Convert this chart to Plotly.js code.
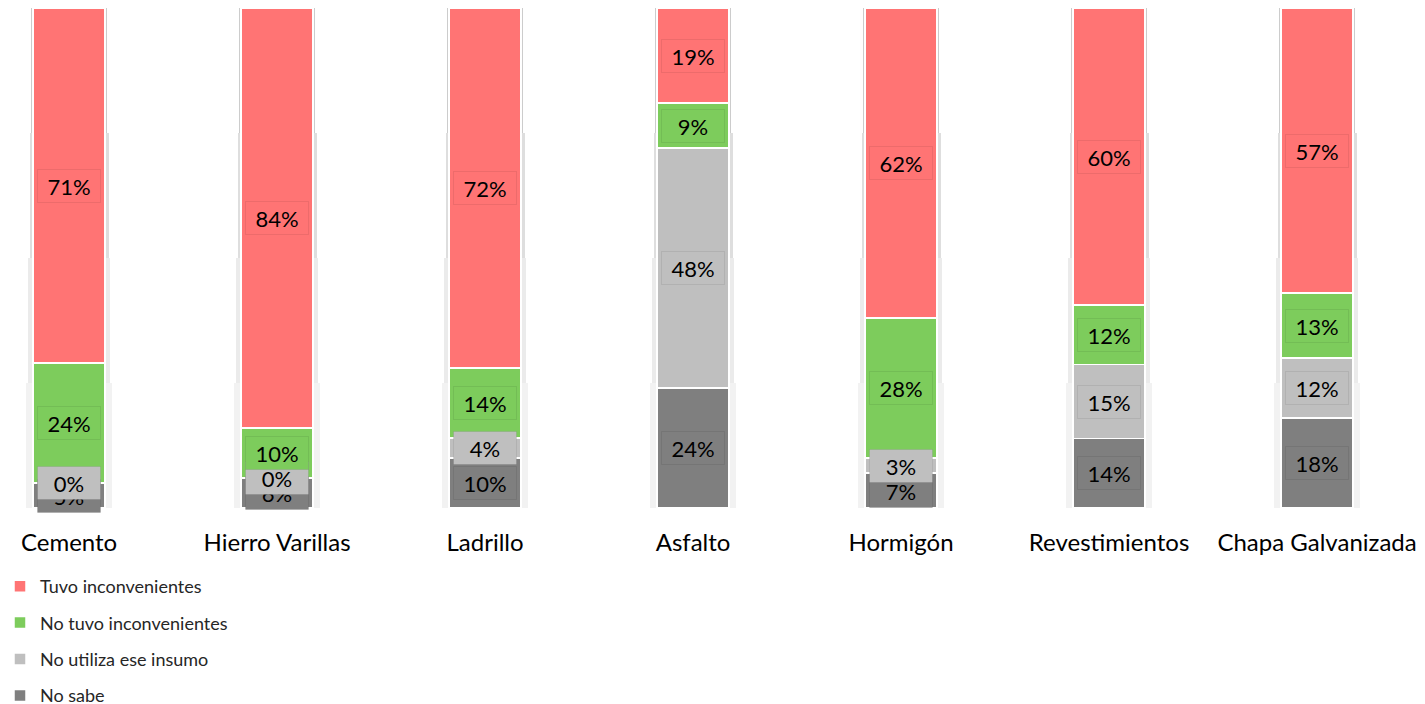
<!DOCTYPE html>
<html>
<head>
<meta charset="utf-8">
<script src="https://cdn.plot.ly/plotly-3.0.1.min.js"></script>
<style>html,body{margin:0;padding:0;background:#fff;}#chart{width:1425px;height:704px;}</style>
</head>
<body>
<div id="chart"></div>
<script>
const categories = ["Cemento","Hierro Varillas","Ladrillo","Asfalto","Hormigón","Revestimientos","Chapa Galvanizada"];
const seriesNames = ["No sabe","No utiliza ese insumo","No tuvo inconvenientes","Tuvo inconvenientes"];
const noSabe      = [5, 6, 10, 24, 7, 14, 18];
const noUtiliza   = [0, 0, 4, 48, 3, 15, 12];
const noTuvo      = [24, 10, 14, 9, 28, 12, 13];
const tuvo        = [71, 84, 72, 19, 62, 60, 57];
const colors = ["#7F7F7F", "#BFBFBF", "#7DCC5C", "#FF7474"];

const series = [noSabe, noUtiliza, noTuvo, tuvo];
const FONT = "Lato, 'Liberation Sans', sans-serif";
const BW = 0.346;

const traces = [];
// soft shadow behind bars
[[0.41, 0.05], [0.395, 0.08], [0.38, 0.13], [0.366, 0.2]].forEach(([w, a]) => {
  traces.push({
    type: "bar", x: categories, y: categories.map(() => 100),
    width: w, marker: {color: "rgba(0,0,0," + a + ")", line: {width: 0}},
    showlegend: false, hoverinfo: "skip", xaxis: "x", yaxis: "y"
  });
});
series.forEach((vals, i) => {
  traces.push({
    type: "bar", name: seriesNames[i], x: categories, y: vals,
    width: BW, legendgroup: "g" + i, legendrank: 1000 - i,
    marker: {color: colors[i], line: {color: "#FFFFFF", width: 1.5}},
    xaxis: "x2", yaxis: "y2", hoverinfo: "name+y"
  });
});

// label annotations at segment centres (normalised to 100%)
const annotations = [];
categories.forEach((c, j) => {
  const total = series.reduce((s, v) => s + v[j], 0);
  let cum = 0;
  series.forEach((vals, i) => {
    const v = vals[j];
    const mid = (cum + v / 2) / total * 100;
    cum += v;
    annotations.push({
      x: c, y: mid, xref: "x2", yref: "y2", text: v + "%", showarrow: false,
      font: {family: FONT, size: 22, color: "#000000"},
      bgcolor: colors[i], bordercolor: "rgba(0,0,0,0.07)", borderwidth: 1,
      width: 60, height: 30, borderpad: 1
    });
  });
});

const xr = [-0.332, 6.519];
const layout = {
  width: 1425, height: 704,
  margin: {l: 0, r: 0, t: 8, b: 196, autoexpand: false},
  paper_bgcolor: "#FFFFFF", plot_bgcolor: "#FFFFFF",
  barmode: "stack", barnorm: "percent",
  showlegend: true,
  xaxis: {type: "category", range: xr, showgrid: false, zeroline: false, showline: false,
          ticks: "", showticklabels: true, ticklabelstandoff: 18, automargin: false,
          tickfont: {family: FONT, size: 24, color: "#000000"}, fixedrange: true},
  yaxis: {range: [0, 100], showgrid: false, zeroline: false, showticklabels: false, fixedrange: true, automargin: false},
  xaxis2: {type: "category", range: xr, overlaying: "x", showgrid: false, zeroline: false,
           showticklabels: false, ticks: "", matches: "x", automargin: false},
  yaxis2: {range: [0, 100], overlaying: "y", showgrid: false, zeroline: false, showticklabels: false, automargin: false},
  legend: {x: 0.0, xanchor: "left", y: -0.12, yanchor: "top", orientation: "v",
           traceorder: "grouped", tracegroupgap: 10, itemwidth: 30,
           font: {family: FONT, size: 18, color: "#262626"}, bgcolor: "rgba(0,0,0,0)"},
  annotations: annotations
};

Plotly.newPlot("chart", traces, layout, {displayModeBar: false, staticPlot: true});
</script>
</body>
</html>
